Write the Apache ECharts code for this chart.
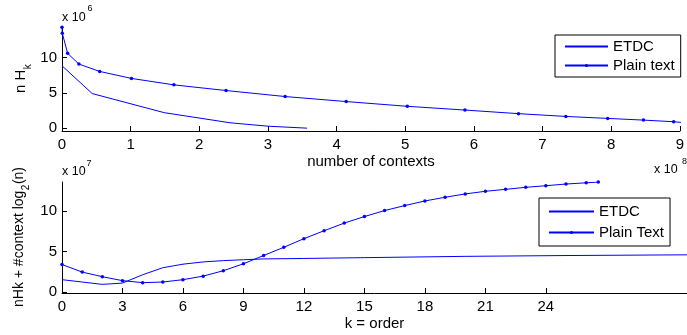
<!DOCTYPE html>
<html><head><meta charset="utf-8">
<script src="https://cdn.jsdelivr.net/npm/echarts@6/dist/echarts.min.js"></script>
<style>html,body{margin:0;padding:0;background:#fff}#c{width:687px;height:335px}</style>
</head><body><div id="c"></div>
<script>
// ---- Top panel: nH_k vs number of contexts (x in 1e8, y in 1e6)
const topEtdcX  = [0, 0.44, 1.49, 2.45, 3.0, 3.57];
const topEtdcY  = [8.82, 4.89, 2.19, 0.76, 0.28, 0.0];
const topPlainX = [0, 0.004, 0.082, 0.246, 0.549, 1.012, 1.63, 2.39, 3.25, 4.14, 5.03, 5.87, 6.65, 7.34, 7.95, 8.47, 8.91, 9.1];
const topPlainY = [14.28, 13.43, 10.58, 9.06, 8.02, 7.03, 6.12, 5.32, 4.47, 3.76, 3.09, 2.56, 2.05, 1.66, 1.38, 1.14, 0.91, 0.75];
const topYTicks = [0, 5, 10];

// ---- Bottom panel: nHk + #context log2(n) vs k (y in 1e7)
const botEtdcX  = [0, 1, 2, 3, 4, 5, 6, 7, 8, 9, 10, 12, 15, 20, 25, 31];
const botEtdcY  = [1.50, 1.21, 0.92, 1.08, 2.11, 2.98, 3.42, 3.70, 3.86, 3.97, 4.07, 4.13, 4.23, 4.39, 4.49, 4.58];
const botPlainX = [0, 1, 2, 3, 4, 5, 6, 7, 8, 9, 10, 11, 12, 13, 14, 15, 16, 17, 18, 19, 20, 21, 22, 23, 24, 25, 26, 26.6];
const botPlainY = [3.38, 2.44, 1.87, 1.38, 1.13, 1.21, 1.50, 1.94, 2.61, 3.47, 4.49, 5.51, 6.58, 7.56, 8.51, 9.32, 10.06, 10.68, 11.25, 11.71, 12.12, 12.45, 12.69, 12.94, 13.14, 13.35, 13.50, 13.59];
const botXTicks = [0, 3, 6, 9, 12, 15, 18, 21, 24];
const botYTicks = [0, 5, 10];

const FONT = '"Liberation Sans", Arial, Helvetica, sans-serif';
const BLUE = '#0000ff';
const zip = (xs, ys) => xs.map((x, i) => [x, ys[i]]);
const ctx = document.createElement('canvas').getContext('2d');
function tw(t, s) { ctx.font = s + 'px ' + FONT; return ctx.measureText(t).width; }

const axisCommon = {
  axisLine: { show: true, onZero: false, lineStyle: { color: '#000', width: 1 } },
  axisTick: { show: true, inside: true, length: 5, lineStyle: { color: '#000' } },
  splitLine: { show: false },
  axisLabel: { color: '#000', fontSize: 15, fontFamily: FONT }
};

const chart = echarts.init(document.getElementById('c'), null, { renderer: 'canvas' });

const t1 = 'n H';
const t2 = 'nHk + #context log';
const s2w = tw('2', 10);
const graphics = [
  { type: 'text', left: 62, top: 11, style: { text: 'x 10', fontSize: 12.5, fontFamily: FONT, fill: '#000' } },
  { type: 'text', left: 87.5, top: 4, style: { text: '6', fontSize: 9, fontFamily: FONT, fill: '#000' } },
  { type: 'text', left: 62, top: 165, style: { text: 'x 10', fontSize: 12.5, fontFamily: FONT, fill: '#000' } },
  { type: 'text', left: 86.5, top: 159, style: { text: '7', fontSize: 9, fontFamily: FONT, fill: '#000' } },
  { type: 'text', left: 654, top: 163, style: { text: 'x 10', fontSize: 12.5, fontFamily: FONT, fill: '#000' } },
  { type: 'text', left: 682, top: 157, style: { text: '8', fontSize: 9, fontFamily: FONT, fill: '#000' } },
  {
    type: 'group', x: 21, y: 93, rotation: Math.PI / 2,
    children: [
      { type: 'text', x: 0, y: 0, style: { text: t1, fontSize: 15, fontFamily: FONT, fill: '#000', align: 'left', verticalAlign: 'middle' } },
      { type: 'text', x: tw(t1, 15) + 0.5, y: 7, style: { text: 'k', fontSize: 10, fontFamily: FONT, fill: '#000', align: 'left', verticalAlign: 'middle' } }
    ]
  },
  {
    type: 'group', x: 19.5, y: 307, rotation: Math.PI / 2,
    children: [
      { type: 'text', x: 0, y: 0, style: { text: t2, fontSize: 14, fontFamily: FONT, fill: '#000', align: 'left', verticalAlign: 'middle' } },
      { type: 'text', x: tw(t2, 14) + 0.5, y: 7, style: { text: '2', fontSize: 10, fontFamily: FONT, fill: '#000', align: 'left', verticalAlign: 'middle' } },
      { type: 'text', x: tw(t2, 14) + s2w + 1, y: 0, style: { text: '(n)', fontSize: 14, fontFamily: FONT, fill: '#000', align: 'left', verticalAlign: 'middle' } }
    ]
  }
];

chart.setOption({
  animation: false,
  backgroundColor: '#fff',
  textStyle: { fontFamily: FONT },
  grid: [
    { left: 62, top: 27, width: 624, height: 104 },
    { left: 62, top: 182, width: 625, height: 111 }
  ],
  xAxis: [
    Object.assign({}, axisCommon, {
      type: 'value', gridIndex: 0, min: 0, max: 9, interval: 1,
      axisLabel: Object.assign({}, axisCommon.axisLabel, { margin: 6 }),
      name: 'number of contexts', nameLocation: 'middle', nameGap: 23,
      nameTextStyle: { color: '#000', fontSize: 15, fontFamily: FONT }
    }),
    Object.assign({}, axisCommon, {
      type: 'value', gridIndex: 1, min: 0, max: 31,
      axisLabel: Object.assign({}, axisCommon.axisLabel, { margin: 6, customValues: botXTicks }),
      axisTick: Object.assign({}, axisCommon.axisTick, { customValues: botXTicks }),
      name: 'k = order', nameLocation: 'middle', nameGap: 23,
      nameTextStyle: { color: '#000', fontSize: 15, fontFamily: FONT }
    })
  ],
  yAxis: [
    Object.assign({}, axisCommon, {
      type: 'value', gridIndex: 0, min: -0.4, max: 14.3,
      axisLabel: Object.assign({}, axisCommon.axisLabel, { margin: 5, customValues: topYTicks }),
      axisTick: Object.assign({}, axisCommon.axisTick, { customValues: topYTicks })
    }),
    Object.assign({}, axisCommon, {
      type: 'value', gridIndex: 1, min: -0.15, max: 13.6,
      axisLabel: Object.assign({}, axisCommon.axisLabel, { margin: 5, customValues: botYTicks }),
      axisTick: Object.assign({}, axisCommon.axisTick, { customValues: botYTicks })
    })
  ],
  legend: [
    {
      orient: 'vertical', left: 555, top: 35, padding: [4, 6, 4, 9],
      itemWidth: 43, itemHeight: 4, itemGap: 4,
      borderColor: '#000', borderWidth: 1, borderRadius: 0, backgroundColor: '#fff',
      selectedMode: false,
      textStyle: { color: '#000', fontSize: 15, fontFamily: FONT },
      data: [{ name: 'ETDC', itemStyle: { opacity: 0 } }, 'Plain text']
    },
    {
      orient: 'vertical', left: 539, top: 198, padding: [6, 6, 6, 9],
      itemWidth: 45, itemHeight: 4, itemGap: 6,
      borderColor: '#000', borderWidth: 1, borderRadius: 0, backgroundColor: '#fff',
      selectedMode: false,
      textStyle: { color: '#000', fontSize: 15, fontFamily: FONT },
      data: [{ name: 'ETDC', itemStyle: { opacity: 0 } }, 'Plain Text']
    }
  ],
  graphic: graphics,
  series: [
    { name: 'ETDC', type: 'line', xAxisIndex: 0, yAxisIndex: 0, data: zip(topEtdcX, topEtdcY),
      symbol: 'none', clip: true, lineStyle: { color: BLUE, width: 1 }, itemStyle: { color: BLUE } },
    { name: 'Plain text', type: 'line', xAxisIndex: 0, yAxisIndex: 0, data: zip(topPlainX, topPlainY),
      symbol: 'circle', symbolSize: 3.5, clip: true, lineStyle: { color: BLUE, width: 1 }, itemStyle: { color: BLUE } },
    { name: 'ETDC', type: 'line', xAxisIndex: 1, yAxisIndex: 1, data: zip(botEtdcX, botEtdcY),
      symbol: 'none', clip: true, lineStyle: { color: BLUE, width: 1 }, itemStyle: { color: BLUE } },
    { name: 'Plain Text', type: 'line', xAxisIndex: 1, yAxisIndex: 1, data: zip(botPlainX, botPlainY),
      symbol: 'circle', symbolSize: 3.5, clip: true, lineStyle: { color: BLUE, width: 1 }, itemStyle: { color: BLUE } }
  ]
});
</script></body></html>
